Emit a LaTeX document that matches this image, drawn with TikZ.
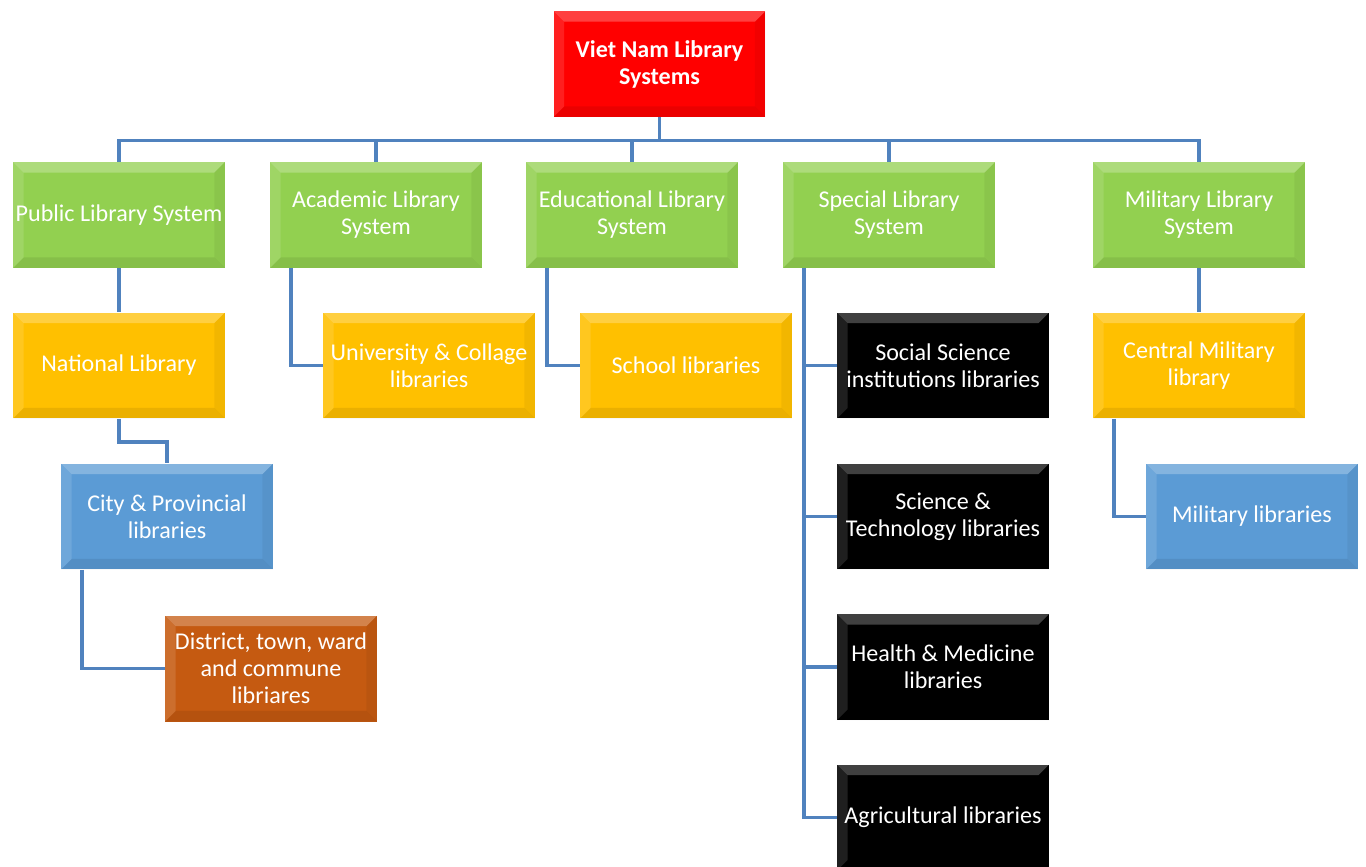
\documentclass[tikz,border=0pt]{standalone}
\usepackage{fontspec}
\setmainfont{Carlito}

\definecolor{libred}{HTML}{FF0000}
\definecolor{libgreen}{HTML}{92D050}
\definecolor{libgold}{HTML}{FFC000}
\definecolor{libblue}{HTML}{5B9BD5}
\definecolor{liborange}{HTML}{C55A11}
\definecolor{libline}{HTML}{5082BE}

\tikzset{
  bevel/.style={path picture={
      \fill[white,opacity=.25] (path picture bounding box.north west) -- (path picture bounding box.north east)
        -- ([shift={(-6pt,-6pt)}]path picture bounding box.north east) -- ([shift={(6pt,-6pt)}]path picture bounding box.north west) -- cycle;
      \fill[white,opacity=.12] (path picture bounding box.north west) -- ([shift={(6pt,-6pt)}]path picture bounding box.north west)
        -- ([shift={(6pt,6pt)}]path picture bounding box.south west) -- (path picture bounding box.south west) -- cycle;
      \fill[black,opacity=.08] (path picture bounding box.south west) -- ([shift={(6pt,6pt)}]path picture bounding box.south west)
        -- ([shift={(-6pt,6pt)}]path picture bounding box.south east) -- (path picture bounding box.south east) -- cycle;
      \fill[black,opacity=.05] (path picture bounding box.north east) -- ([shift={(-6pt,-6pt)}]path picture bounding box.north east)
        -- ([shift={(-6pt,6pt)}]path picture bounding box.south east) -- (path picture bounding box.south east) -- cycle;
    }},
  box/.style={rectangle, minimum width=4.24cm, minimum height=2.12cm, inner sep=1pt,
    text=white, align=center, font=\fontsize{13.7}{15.4}\selectfont, bevel},
  link/.style={draw=libline, line width=2pt}
}

\begin{document}
\begin{tikzpicture}[x=0.02cm,y=-0.02cm]

      \useasboundingbox (0,0) rectangle (1366,866);

      \begin{scope}[every node/.style={box}]
        \node[fill=libred,font=\fontsize{13.7}{15.4}\selectfont\bfseries] (1) at (659.5,64) {Viet Nam Library\\Systems};

        \node[fill=libgreen] (2)  at (119,215)  {Public Library System};
        \node[fill=libgreen] (3)  at (376,215)  {Academic Library\\System};
        \node[fill=libgreen] (4)  at (632,215)  {Educational Library\\System};
        \node[fill=libgreen] (5)  at (889,215)  {Special Library\\System};
        \node[fill=libgreen] (6)  at (1199,215) {Military Library\\System};

        \node[fill=libgold] (7)  at (119,365.5)  {National Library};
        \node[fill=libgold] (8)  at (429,365.5)  {University \& Collage\\libraries};
        \node[fill=libgold] (9)  at (686,365.5)  {School libraries};
        \node[fill=black]   (10) at (943,365.5)  {Social Science\\institutions libraries};
        \node[fill=libgold] (11) at (1199,365.5) {Central Military\\library};

        \node[fill=libblue] (12) at (167,516.5)  {City \& Provincial\\libraries};
        \node[fill=black]   (13) at (943,516.5)  {Science \&\\Technology libraries};
        \node[fill=libblue] (14) at (1252,516.5) {Military libraries};

        \node[fill=liborange] (15) at (271,668.5) {District, town, ward\\and commune\\libriares};
        \node[fill=black]     (16) at (943,667)   {Health \& Medicine\\libraries};
        \node[fill=black]     (17) at (943,817.5) {Agricultural libraries};
      \end{scope}

      \begin{scope}[every path/.style={link}]
        \foreach \n in {2,...,6}
          \draw (1.south) -- ++(0,23) -| (\n.north);

        \draw (2.south) -- (7.north);
        \draw ([xshift=-1.7cm]3.south) |- (8.west);
        \draw ([xshift=-1.7cm]4.south) |- (9.west);
        \foreach \n in {10,13,16,17}
          \draw ([xshift=-1.7cm]5.south) |- (\n.west);
        \draw (6.south) -- (11.north);

        \draw (7.south) -- ++(0,23) -| (12.north);
        \draw ([xshift=-1.7cm]11.south) |- (14.west);
        \draw ([xshift=-1.7cm]12.south) |- (15.west);
      \end{scope}

    \end{tikzpicture}
\end{document}
